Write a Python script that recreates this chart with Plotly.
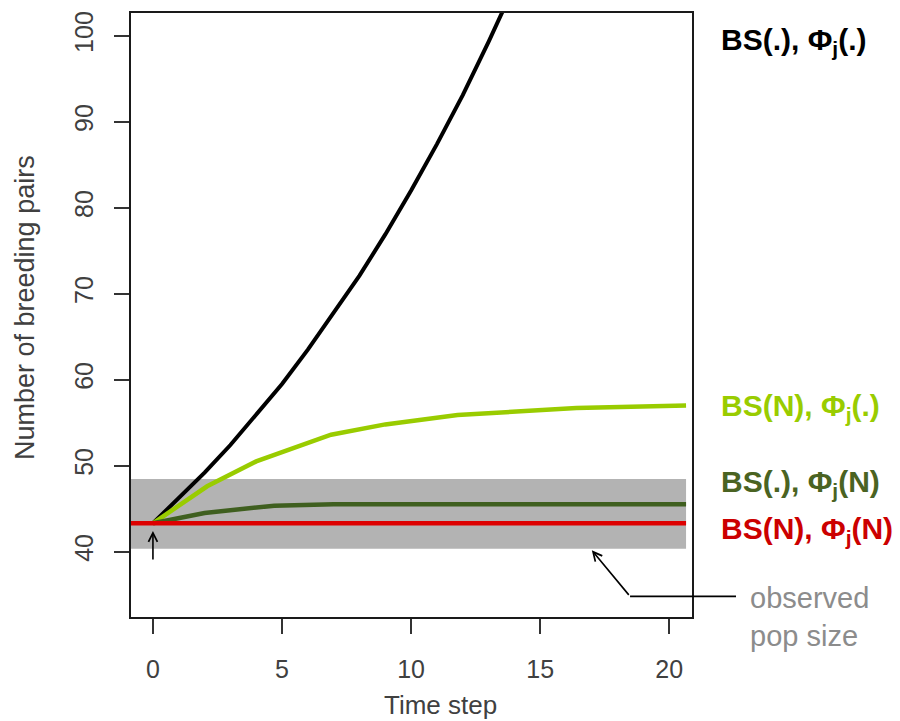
import plotly.graph_objects as go

# ---------------- data ----------------
t_black = [0, 1, 2, 3, 4, 5, 6, 7, 8, 9, 10, 11, 12, 13, 14]
n_black = [43.3, 46.2, 49.2, 52.4, 55.9, 59.5, 63.5, 67.7, 72.1, 76.9, 82.0, 87.4, 93.1, 99.3, 105.8]

t_light = [0, 2.1, 4.0, 6.9, 9.0, 11.8, 16.4, 20.65]
n_light = [43.3, 47.6, 50.5, 53.6, 54.8, 55.9, 56.7, 57.0]

t_dark = [0, 2.0, 4.7, 7.0, 20.65]
n_dark = [43.3, 44.5, 45.35, 45.5, 45.5]

t_red = [-0.85, 20.65]
n_red = [43.3, 43.3]

obs_low, obs_high = 40.35, 48.45
obs_t_end = 20.65

x_ticks = [0, 5, 10, 15, 20]
y_ticks = [40, 50, 60, 70, 80, 90, 100]

labels = ["BS(.), \u03a6<sub>j</sub>(.)", "BS(N), \u03a6<sub>j</sub>(.)",
          "BS(.), \u03a6<sub>j</sub>(N)", "BS(N), \u03a6<sub>j</sub>(N)"]
label_colors = ["#000000", "#99cc00", "#4a6322", "#cc0000"]
label_py = [42, 407, 483, 530]          # label vertical centres (pixels)

XR = [-0.85, 20.88]
YR = [32.4, 102.65]

# plot-area geometry
W, H = 900, 721
ML, MR, MT, MB = 131, 208, 13, 104
PW, PH = W - ML - MR, H - MT - MB


def px2paper(px):
    return (px - ML) / PW


def py2paper(py):
    return (H - MB - py) / PH


def x2paper(x):
    return (x - XR[0]) / (XR[1] - XR[0])


def y2paper(y):
    return (y - YR[0]) / (YR[1] - YR[0])


fig = go.Figure()

fig.add_trace(go.Scatter(x=t_black, y=n_black, mode="lines",
                         line=dict(color="#000000", width=4), showlegend=False))
fig.add_trace(go.Scatter(x=t_light, y=n_light, mode="lines",
                         line=dict(color="#99cc00", width=4.5), showlegend=False))
fig.add_trace(go.Scatter(x=t_dark, y=n_dark, mode="lines",
                         line=dict(color="#3f5f1f", width=4.5), showlegend=False))
fig.add_trace(go.Scatter(x=t_red, y=n_red, mode="lines",
                         line=dict(color="#dd0000", width=4.5), showlegend=False))

# observed population band
fig.add_shape(type="rect", xref="x", yref="y", x0=XR[0], x1=obs_t_end,
              y0=obs_low, y1=obs_high, fillcolor="#b3b3b3",
              line=dict(width=0), layer="below")

font_family = "Liberation Sans, Arial, sans-serif"

annotations = []
for txt, col, py in zip(labels, label_colors, label_py):
    annotations.append(dict(text="<b>" + txt + "</b>", x=px2paper(719), y=py2paper(py),
                            xref="paper", yref="paper", xanchor="left", yanchor="middle",
                            showarrow=False, font=dict(size=30, color=col, family=font_family)))

annotations.append(dict(text="observed<br>pop size", x=px2paper(748), y=py2paper(617),
                        xref="paper", yref="paper", xanchor="left", yanchor="middle",
                        align="left", showarrow=False,
                        font=dict(size=29, color="#8c8c8c", family=font_family)))

# axis titles
annotations.append(dict(text="Time step", x=px2paper(440), y=py2paper(705),
                        xref="paper", yref="paper", xanchor="center", yanchor="middle",
                        showarrow=False, font=dict(size=26, color="#404040", family=font_family)))
annotations.append(dict(text="Number of breeding pairs", x=px2paper(25), y=py2paper(308),
                        xref="paper", yref="paper", xanchor="center", yanchor="middle",
                        textangle=-90, showarrow=False,
                        font=dict(size=27, color="#404040", family=font_family)))

# arrow at t = 0
annotations.append(dict(x=0, y=42.4, ax=0, ay=38.9, xref="x", yref="y", axref="x", ayref="y",
                        text="", showarrow=True, arrowhead=5, arrowsize=1.1, arrowwidth=1.6,
                        arrowcolor="#000000"))
# arrow to observed band
elbow_t, elbow_n = 18.48, 34.8
annotations.append(dict(x=17.0, y=40.15, ax=elbow_t, ay=elbow_n, xref="x", yref="y",
                        axref="x", ayref="y", text="", showarrow=True, arrowhead=5,
                        arrowsize=1.1, arrowwidth=1.6, arrowcolor="#000000"))

fig.add_shape(type="line", xref="paper", yref="paper",
              x0=x2paper(elbow_t), y0=y2paper(elbow_n), x1=px2paper(736), y1=y2paper(elbow_n),
              line=dict(color="#000000", width=1.6))

axis_common = dict(showgrid=False, zeroline=False, showline=True, mirror=True,
                   linecolor="#1a1a1a", linewidth=2, ticks="outside", ticklen=15,
                   tickwidth=2, tickcolor="#333333",
                   tickfont=dict(size=25, color="#404040", family=font_family))

fig.update_layout(
    width=W, height=H,
    margin=dict(l=ML, r=MR, t=MT, b=MB, pad=0),
    paper_bgcolor="white", plot_bgcolor="white",
    xaxis=dict(range=XR, tickvals=x_ticks, ticktext=[str(v) for v in x_ticks],
               ticklabelstandoff=14, **axis_common),
    yaxis=dict(range=YR, tickvals=y_ticks, ticktext=[str(v) for v in y_ticks],
               tickangle=-90, ticklabelstandoff=11, **axis_common),
    annotations=annotations,
    showlegend=False,
)

fig.write_html("out.html", config={"displayModeBar": False},
               post_script="document.body.style.margin='0px';document.body.style.overflow='hidden';")
